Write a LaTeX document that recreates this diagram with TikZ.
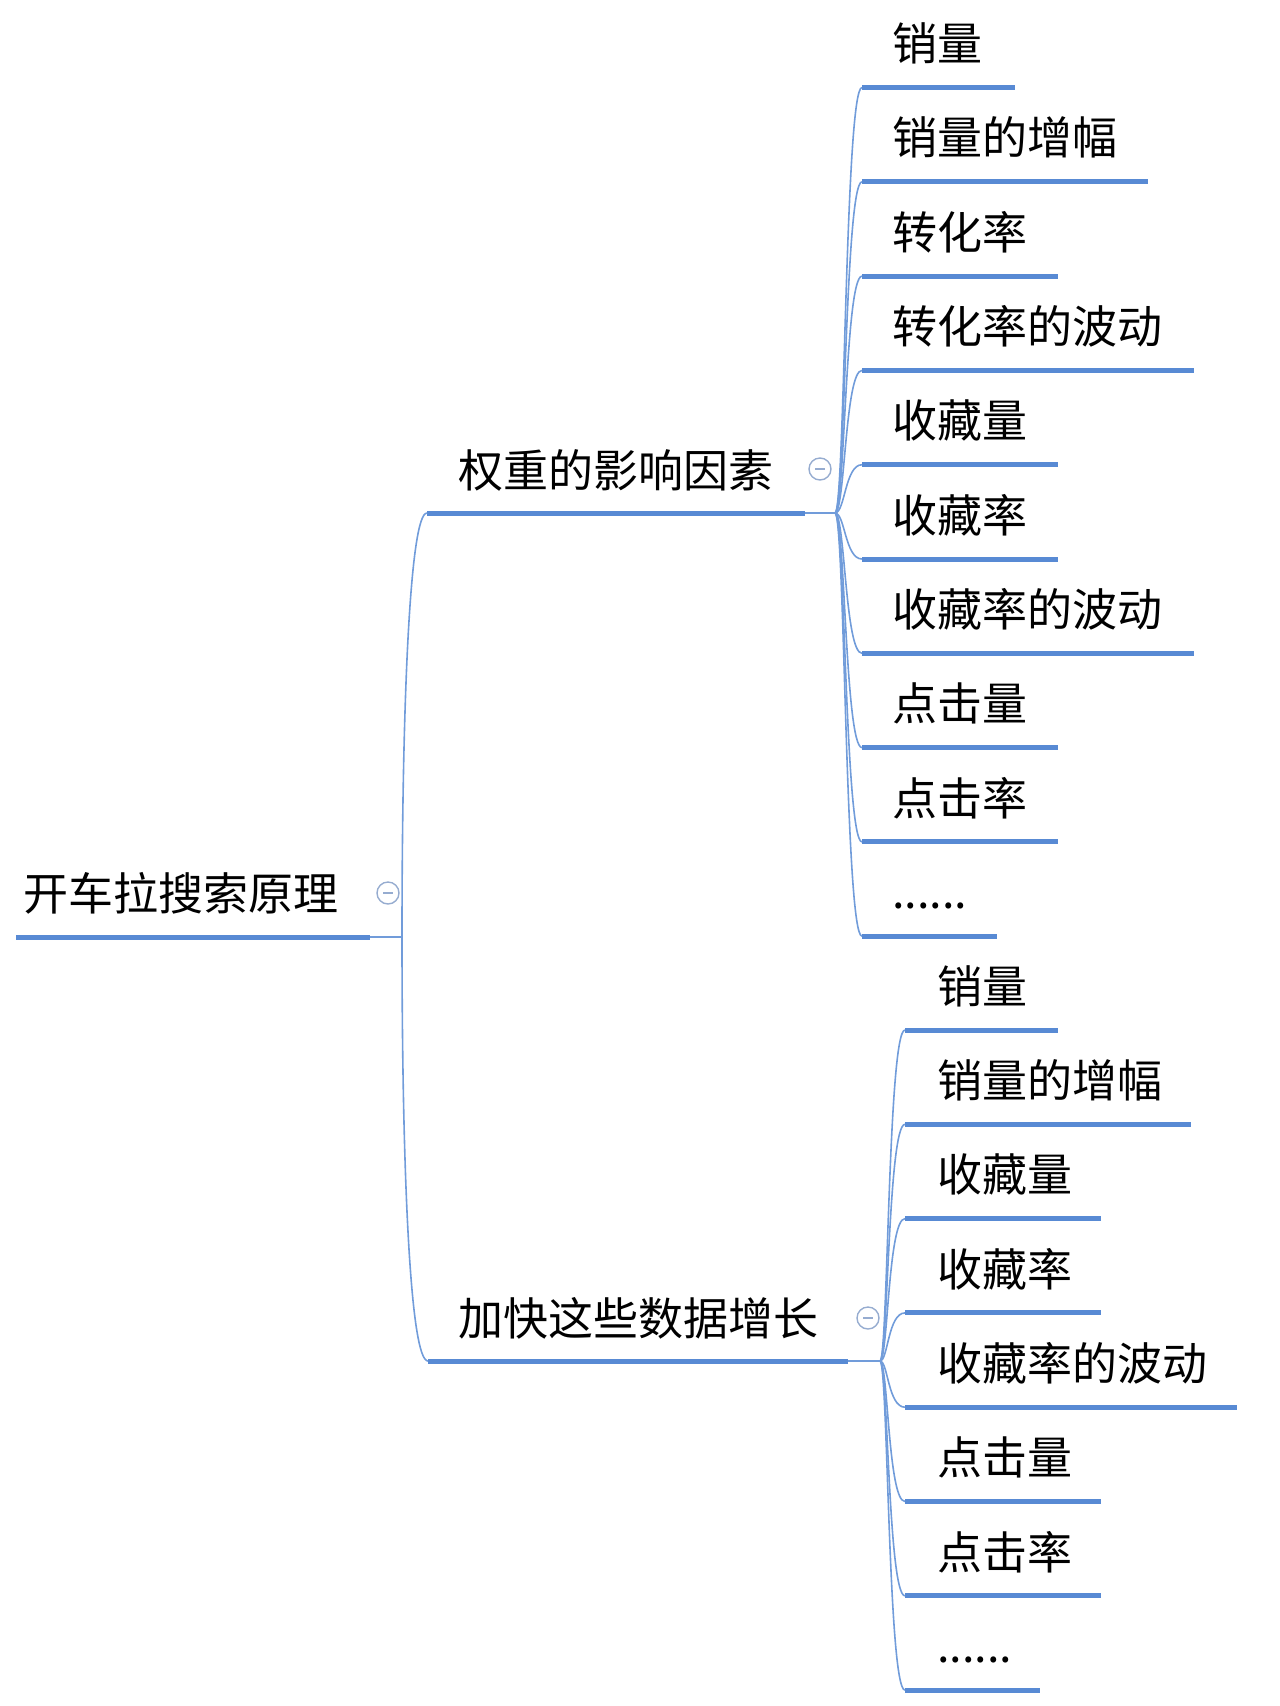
\documentclass[tikz,border=0pt]{standalone}
\usepackage{fontspec}
\setmainfont{Noto Sans CJK SC}
\usetikzlibrary{positioning}
\definecolor{mapblue}{RGB}{88,138,212}
\definecolor{knobgray}{RGB}{150,172,208}
\newcommand{\sixdots}{\smash{\raisebox{-16pt}{......}}}

\begin{document}
\begin{tikzpicture}[x=1pt,y=-1pt,
    topic/.style={anchor=west,inner sep=0pt,font=\fontsize{45}{54}\selectfont},
    underline/.style={draw=mapblue,line width=5pt},
    link/.style={draw=mapblue!85,line width=1.6pt},
    knob/.style={circle,draw=knobgray,line width=1.4pt,minimum size=22pt,inner sep=0pt},
    knobmark/.style={draw=knobgray,line width=1.2pt}
]
\useasboundingbox (0,0) rectangle (1280,1706);

% root topic
\node[topic] (root) at (23,893) {开车拉搜索原理};
\coordinate (rootL) at (16,937);
\coordinate (rootR) at (370,937);
\coordinate (rootEnd) at (402,937);
\draw[underline] (rootL) -- (rootR);
\draw[link] (rootR) -- (rootEnd);
\node[knob] (rootKnob) at (388,893) {};
\draw[knobmark] ([xshift=-5pt]rootKnob.center) -- ([xshift=5pt]rootKnob.center);

% main branches
\node[topic] (weight) at (458,470) {权重的影响因素};
\coordinate (weightL) at (427,513);
\coordinate (weightR) at (805,513);
\coordinate (weightEnd) at (835,513);
\draw[underline] (weightL) -- (weightR);
\draw[link] (weightR) -- (weightEnd);
\node[knob] (weightKnob) at (820,469) {};
\draw[knobmark] ([xshift=-5pt]weightKnob.center) -- ([xshift=5pt]weightKnob.center);

\node[topic] (speed) at (458,1318) {加快这些数据增长};
\coordinate (speedL) at (428,1361);
\coordinate (speedR) at (848,1361);
\coordinate (speedEnd) at (880,1361);
\draw[underline] (speedL) -- (speedR);
\draw[link] (speedR) -- (speedEnd);
\node[knob] (speedKnob) at (868,1318) {};
\draw[knobmark] ([xshift=-5pt]speedKnob.center) -- ([xshift=5pt]speedKnob.center);

\draw[link] (rootEnd) .. controls (402,700) and (410,513) .. (weightL);
\draw[link] (rootEnd) .. controls (402,1170) and (410,1361) .. (speedL);

% leaves of the first branch
\foreach \txt/\len [count=\i] in {销量/153,销量的增幅/286,转化率/196,
    转化率的波动/332,收藏量/196,收藏率/196,收藏率的波动/332,点击量/196,
    点击率/196,\sixdots/135}{
  \pgfmathsetmacro\ya{87.5+(\i-1)*94.3}
  \coordinate (wL\i) at (862,\ya);
  \coordinate (wR\i) at (862+\len,\ya);
  \node[topic] (w\i) at (892,\ya-44) {\txt};
  \draw[link] (weightEnd) .. controls (845,513) and (845,\ya) .. (wL\i);
  \draw[underline] (wL\i) -- (wR\i);
}

% leaves of the second branch
\foreach \txt/\len [count=\i] in {销量/153,销量的增幅/286,收藏量/196,
    收藏率/196,收藏率的波动/332,点击量/196,点击率/196,\sixdots/135}{
  \pgfmathsetmacro\yb{1030+(\i-1)*94.3}
  \coordinate (sL\i) at (905,\yb);
  \coordinate (sR\i) at (905+\len,\yb);
  \node[topic] (s\i) at (937,\yb-44) {\txt};
  \draw[link] (speedEnd) .. controls (888,1361) and (888,\yb) .. (sL\i);
  \draw[underline] (sL\i) -- (sR\i);
}
\end{tikzpicture}
\end{document}
